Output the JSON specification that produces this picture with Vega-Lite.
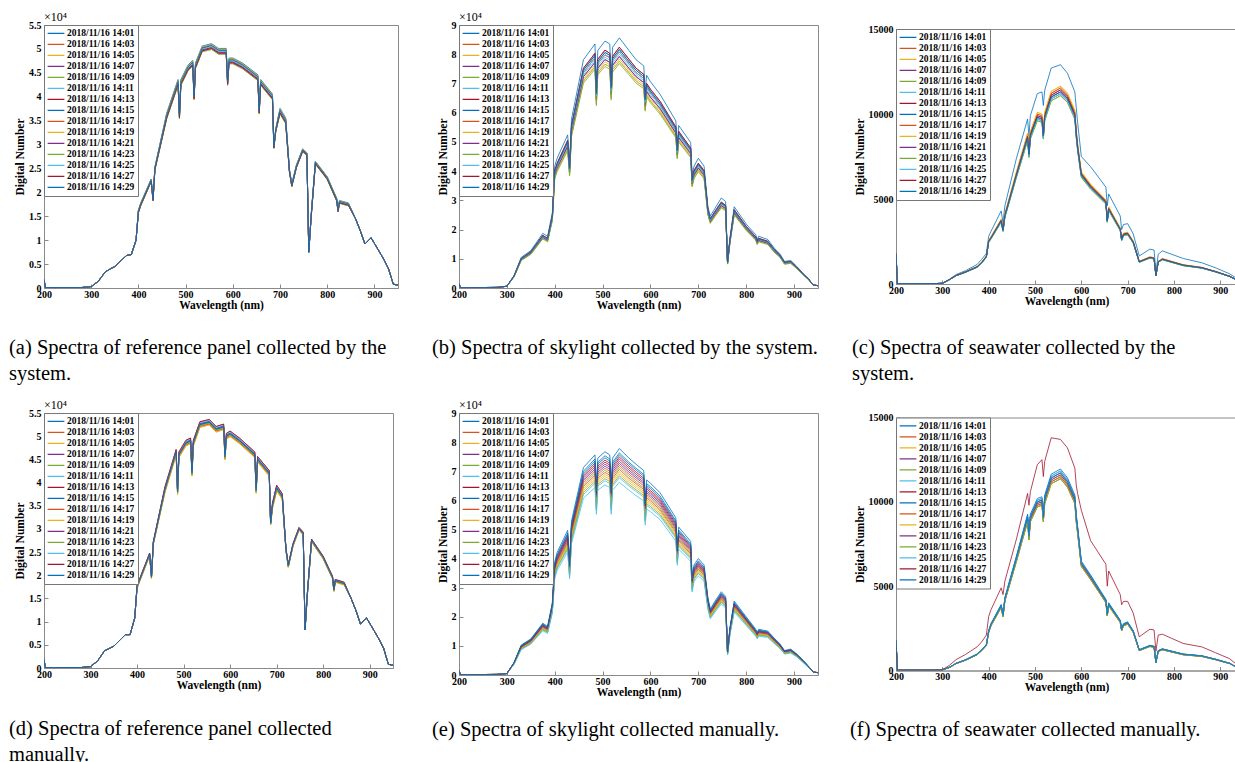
{
"$schema":"https://vega.github.io/schema/vega-lite/v6.json",
"background":"white",
"padding":{"left":8,"top":10,"right":0,"bottom":0},
"config":{
 "font":"Liberation Serif",
 "view":{"stroke":"#8a8a8a","strokeWidth":1},
 "range":{"category":["#0072BD","#D95319","#EDB120","#7E2F8E","#77AC30","#4DBEEE","#A2142F","#0072BD","#D95319","#EDB120","#7E2F8E","#77AC30","#4DBEEE","#A2142F","#0072BD"]},
 "axis":{"labelFont":"Liberation Serif","labelFontWeight":"bold","labelFontSize":10,"labelColor":"#000","titleFont":"Liberation Serif","titleFontWeight":"bold","titleFontSize":11.5,"titleColor":"#000","domainColor":"#8a8a8a","tickColor":"#8a8a8a","tickSize":-4,"labelPadding":5,"grid":false,"labelFlush":false,"labelOverlap":false,"titlePadding":0},
 "axisY":{"titleFontSize":11.5,"titlePadding":3,"labelPadding":7},
 "legend":{"orient":"top-left","offset":0,"symbolType":"stroke","symbolSize":280,"symbolStrokeWidth":1.2,"clipHeight":10.8,"rowPadding":0,"labelFont":"Liberation Serif","labelFontWeight":"bold","labelFontSize":9.5,"labelColor":"#000","labelOffset":2,"padding":3,"strokeColor":"#777","fillColor":"#fff","labelLimit":300,"symbolOffset":0},
 "title":{"orient":"bottom","anchor":"start","frame":"group","font":"Liberation Serif","fontSize":20.5,"fontWeight":"normal","color":"#000","offset":27,"lineHeight":26}
},
"datasets":{
 "nm":[
  {"p":"a","s":["2018/11/16 14:01","2018/11/16 14:03","2018/11/16 14:05","2018/11/16 14:07","2018/11/16 14:09","2018/11/16 14:11","2018/11/16 14:13","2018/11/16 14:15","2018/11/16 14:17","2018/11/16 14:19","2018/11/16 14:21","2018/11/16 14:23","2018/11/16 14:25","2018/11/16 14:27","2018/11/16 14:29"]},
  {"p":"b","s":["2018/11/16 14:01","2018/11/16 14:03","2018/11/16 14:05","2018/11/16 14:07","2018/11/16 14:09","2018/11/16 14:11","2018/11/16 14:13","2018/11/16 14:15","2018/11/16 14:17","2018/11/16 14:19","2018/11/16 14:21","2018/11/16 14:23","2018/11/16 14:25","2018/11/16 14:27","2018/11/16 14:29"]},
  {"p":"c","s":["2018/11/16 14:01","2018/11/16 14:03","2018/11/16 14:05","2018/11/16 14:07","2018/11/16 14:09","2018/11/16 14:11","2018/11/16 14:13","2018/11/16 14:15","2018/11/16 14:17","2018/11/16 14:19","2018/11/16 14:21","2018/11/16 14:23","2018/11/16 14:25","2018/11/16 14:27","2018/11/16 14:29"]},
  {"p":"d","s":["2018/11/16 14:01","2018/11/16 14:03","2018/11/16 14:05","2018/11/16 14:07","2018/11/16 14:09","2018/11/16 14:11","2018/11/16 14:13","2018/11/16 14:15","2018/11/16 14:17","2018/11/16 14:19","2018/11/16 14:21","2018/11/16 14:23","2018/11/16 14:25","2018/11/16 14:27","2018/11/16 14:29"]},
  {"p":"e","s":["2018/11/16 14:01","2018/11/16 14:03","2018/11/16 14:05","2018/11/16 14:07","2018/11/16 14:09","2018/11/16 14:11","2018/11/16 14:13","2018/11/16 14:15","2018/11/16 14:17","2018/11/16 14:19","2018/11/16 14:21","2018/11/16 14:23","2018/11/16 14:25","2018/11/16 14:27","2018/11/16 14:29"]},
  {"p":"f","s":["2018/11/16 14:01","2018/11/16 14:03","2018/11/16 14:05","2018/11/16 14:07","2018/11/16 14:09","2018/11/16 14:11","2018/11/16 14:13","2018/11/16 14:15","2018/11/16 14:17","2018/11/16 14:19","2018/11/16 14:21","2018/11/16 14:23","2018/11/16 14:25","2018/11/16 14:27","2018/11/16 14:29"]}
 ],
 "sp":[
{"p":"a","w":200,"v":[0.18,0.18,0.18,0.18,0.18,0.18,0.18,0.18,0.18,0.18,0.18,0.18,0.18,0.18,0.18]},
{"p":"a","w":203,"v":[0.01,0.01,0.01,0.01,0.01,0.01,0.01,0.01,0.01,0.01,0.01,0.01,0.01,0.01,0.01]},
{"p":"a","w":280,"v":[0.01,0.01,0.01,0.01,0.01,0.01,0.01,0.01,0.01,0.01,0.01,0.01,0.01,0.01,0.01]},
{"p":"a","w":300,"v":[0.03,0.03,0.03,0.03,0.03,0.03,0.03,0.03,0.03,0.03,0.03,0.03,0.03,0.03,0.03]},
{"p":"a","w":315,"v":[0.14,0.14,0.14,0.14,0.14,0.14,0.14,0.14,0.14,0.14,0.14,0.14,0.14,0.14,0.14]},
{"p":"a","w":330,"v":[0.34,0.34,0.34,0.34,0.34,0.34,0.34,0.34,0.34,0.34,0.34,0.34,0.34,0.34,0.34]},
{"p":"a","w":350,"v":[0.45,0.45,0.45,0.45,0.45,0.45,0.45,0.45,0.45,0.45,0.45,0.45,0.45,0.45,0.45]},
{"p":"a","w":375,"v":[0.68,0.68,0.68,0.68,0.68,0.68,0.68,0.68,0.68,0.68,0.68,0.68,0.68,0.68,0.68]},
{"p":"a","w":385,"v":[0.7,0.7,0.7,0.7,0.7,0.7,0.7,0.7,0.7,0.7,0.7,0.7,0.7,0.7,0.7]},
{"p":"a","w":395,"v":[1,1,1,1,1,1,1,1,1,1,1,1,1,1,1]},
{"p":"a","w":400,"v":[1.63,1.61,1.62,1.59,1.57,1.6,1.58,1.62,1.61,1.62,1.59,1.57,1.6,1.58,1.61]},
{"p":"a","w":405,"v":[1.78,1.76,1.77,1.74,1.72,1.75,1.73,1.77,1.76,1.77,1.74,1.72,1.75,1.73,1.76]},
{"p":"a","w":427,"v":[2.28,2.26,2.27,2.24,2.22,2.25,2.23,2.27,2.26,2.27,2.24,2.22,2.25,2.23,2.26]},
{"p":"a","w":431,"v":[1.88,1.86,1.87,1.84,1.82,1.85,1.83,1.87,1.86,1.87,1.84,1.82,1.85,1.83,1.86]},
{"p":"a","w":435,"v":[2.53,2.51,2.52,2.49,2.47,2.5,2.48,2.52,2.51,2.52,2.49,2.47,2.5,2.48,2.51]},
{"p":"a","w":460,"v":[3.66,3.62,3.64,3.58,3.54,3.6,3.56,3.64,3.62,3.64,3.58,3.54,3.6,3.56,3.62]},
{"p":"a","w":484,"v":[4.36,4.32,4.34,4.28,4.24,4.3,4.26,4.34,4.32,4.34,4.28,4.24,4.3,4.26,4.32]},
{"p":"a","w":487,"v":[3.66,3.62,3.64,3.58,3.54,3.6,3.56,3.64,3.62,3.64,3.58,3.54,3.6,3.56,3.62]},
{"p":"a","w":490,"v":[4.36,4.32,4.34,4.28,4.24,4.3,4.26,4.34,4.32,4.34,4.28,4.24,4.3,4.26,4.32]},
{"p":"a","w":505,"v":[4.66,4.62,4.64,4.58,4.54,4.6,4.56,4.64,4.62,4.64,4.58,4.54,4.6,4.56,4.62]},
{"p":"a","w":515,"v":[4.76,4.72,4.74,4.68,4.64,4.7,4.66,4.74,4.72,4.74,4.68,4.64,4.7,4.66,4.72]},
{"p":"a","w":518,"v":[4.06,4.02,4.04,3.98,3.94,4,3.96,4.04,4.02,4.04,3.98,3.94,4,3.96,4.02]},
{"p":"a","w":521,"v":[4.71,4.67,4.69,4.63,4.59,4.65,4.61,4.69,4.67,4.69,4.63,4.59,4.65,4.61,4.67]},
{"p":"a","w":535,"v":[5.06,5.02,5.04,4.98,4.94,5,4.96,5.04,5.02,5.04,4.98,4.94,5,4.96,5.02]},
{"p":"a","w":555,"v":[5.11,5.07,5.09,5.03,4.99,5.05,5.01,5.09,5.07,5.09,5.03,4.99,5.05,5.01,5.07]},
{"p":"a","w":570,"v":[5.01,4.97,4.99,4.93,4.89,4.95,4.91,4.99,4.97,4.99,4.93,4.89,4.95,4.91,4.97]},
{"p":"a","w":586,"v":[5.01,4.97,4.99,4.93,4.89,4.95,4.91,4.99,4.97,4.99,4.93,4.89,4.95,4.91,4.97]},
{"p":"a","w":589,"v":[4.36,4.32,4.34,4.28,4.24,4.3,4.26,4.34,4.32,4.34,4.28,4.24,4.3,4.26,4.32]},
{"p":"a","w":592,"v":[4.81,4.77,4.79,4.73,4.69,4.75,4.71,4.79,4.77,4.79,4.73,4.69,4.75,4.71,4.77]},
{"p":"a","w":600,"v":[4.81,4.77,4.79,4.73,4.69,4.75,4.71,4.79,4.77,4.79,4.73,4.69,4.75,4.71,4.77]},
{"p":"a","w":620,"v":[4.71,4.67,4.69,4.63,4.59,4.65,4.61,4.69,4.67,4.69,4.63,4.59,4.65,4.61,4.67]},
{"p":"a","w":653,"v":[4.46,4.42,4.44,4.38,4.34,4.4,4.36,4.44,4.42,4.44,4.38,4.34,4.4,4.36,4.42]},
{"p":"a","w":656,"v":[3.76,3.72,3.74,3.68,3.64,3.7,3.66,3.74,3.72,3.74,3.68,3.64,3.7,3.66,3.72]},
{"p":"a","w":659,"v":[4.36,4.32,4.34,4.28,4.24,4.3,4.26,4.34,4.32,4.34,4.28,4.24,4.3,4.26,4.32]},
{"p":"a","w":684,"v":[4.06,4.02,4.04,3.98,3.94,4,3.96,4.04,4.02,4.04,3.98,3.94,4,3.96,4.02]},
{"p":"a","w":687,"v":[2.98,2.96,2.97,2.94,2.92,2.95,2.93,2.97,2.96,2.97,2.94,2.92,2.95,2.93,2.96]},
{"p":"a","w":691,"v":[3.33,3.31,3.32,3.29,3.27,3.3,3.28,3.32,3.31,3.32,3.29,3.27,3.3,3.28,3.31]},
{"p":"a","w":700,"v":[3.76,3.72,3.74,3.68,3.64,3.7,3.66,3.74,3.72,3.74,3.68,3.64,3.7,3.66,3.72]},
{"p":"a","w":712,"v":[3.56,3.52,3.54,3.48,3.44,3.5,3.46,3.54,3.52,3.54,3.48,3.44,3.5,3.46,3.52]},
{"p":"a","w":720,"v":[2.48,2.46,2.47,2.44,2.42,2.45,2.43,2.47,2.46,2.47,2.44,2.42,2.45,2.43,2.46]},
{"p":"a","w":725,"v":[2.18,2.16,2.17,2.14,2.12,2.15,2.13,2.17,2.16,2.17,2.14,2.12,2.15,2.13,2.16]},
{"p":"a","w":735,"v":[2.58,2.56,2.57,2.54,2.52,2.55,2.53,2.57,2.56,2.57,2.54,2.52,2.55,2.53,2.56]},
{"p":"a","w":748,"v":[2.91,2.89,2.9,2.87,2.85,2.88,2.86,2.9,2.89,2.9,2.87,2.85,2.88,2.86,2.89]},
{"p":"a","w":757,"v":[2.83,2.81,2.82,2.79,2.77,2.8,2.78,2.82,2.81,2.82,2.79,2.77,2.8,2.78,2.81]},
{"p":"a","w":761,"v":[0.75,0.75,0.75,0.75,0.75,0.75,0.75,0.75,0.75,0.75,0.75,0.75,0.75,0.75,0.75]},
{"p":"a","w":766,"v":[1.53,1.51,1.52,1.49,1.47,1.5,1.48,1.52,1.51,1.52,1.49,1.47,1.5,1.48,1.51]},
{"p":"a","w":775,"v":[2.65,2.63,2.64,2.61,2.59,2.62,2.6,2.64,2.63,2.64,2.61,2.59,2.62,2.6,2.63]},
{"p":"a","w":800,"v":[2.33,2.31,2.32,2.29,2.27,2.3,2.28,2.32,2.31,2.32,2.29,2.27,2.3,2.28,2.31]},
{"p":"a","w":820,"v":[1.88,1.86,1.87,1.84,1.82,1.85,1.83,1.87,1.86,1.87,1.84,1.82,1.85,1.83,1.86]},
{"p":"a","w":823,"v":[1.65,1.63,1.64,1.61,1.59,1.62,1.6,1.64,1.63,1.64,1.61,1.59,1.62,1.6,1.63]},
{"p":"a","w":826,"v":[1.83,1.81,1.82,1.79,1.77,1.8,1.78,1.82,1.81,1.82,1.79,1.77,1.8,1.78,1.81]},
{"p":"a","w":845,"v":[1.78,1.76,1.77,1.74,1.72,1.75,1.73,1.77,1.76,1.77,1.74,1.72,1.75,1.73,1.76]},
{"p":"a","w":860,"v":[1.45,1.45,1.45,1.45,1.45,1.45,1.45,1.45,1.45,1.45,1.45,1.45,1.45,1.45,1.45]},
{"p":"a","w":870,"v":[1.2,1.2,1.2,1.2,1.2,1.2,1.2,1.2,1.2,1.2,1.2,1.2,1.2,1.2,1.2]},
{"p":"a","w":880,"v":[0.92,0.92,0.92,0.92,0.92,0.92,0.92,0.92,0.92,0.92,0.92,0.92,0.92,0.92,0.92]},
{"p":"a","w":893,"v":[1.05,1.05,1.05,1.05,1.05,1.05,1.05,1.05,1.05,1.05,1.05,1.05,1.05,1.05,1.05]},
{"p":"a","w":905,"v":[0.85,0.85,0.85,0.85,0.85,0.85,0.85,0.85,0.85,0.85,0.85,0.85,0.85,0.85,0.85]},
{"p":"a","w":920,"v":[0.6,0.6,0.6,0.6,0.6,0.6,0.6,0.6,0.6,0.6,0.6,0.6,0.6,0.6,0.6]},
{"p":"a","w":930,"v":[0.4,0.4,0.4,0.4,0.4,0.4,0.4,0.4,0.4,0.4,0.4,0.4,0.4,0.4,0.4]},
{"p":"a","w":940,"v":[0.08,0.08,0.08,0.08,0.08,0.08,0.08,0.08,0.08,0.08,0.08,0.08,0.08,0.08,0.08]},
{"p":"a","w":950,"v":[0.06,0.06,0.06,0.06,0.06,0.06,0.06,0.06,0.06,0.06,0.06,0.06,0.06,0.06,0.06]},

{"p":"b","w":200,"v":[0.15,0.15,0.15,0.15,0.15,0.15,0.15,0.15,0.15,0.15,0.15,0.15,0.15,0.15,0.15]},
{"p":"b","w":203,"v":[0.01,0.01,0.01,0.01,0.01,0.01,0.01,0.01,0.01,0.01,0.01,0.01,0.01,0.01,0.01]},
{"p":"b","w":280,"v":[0.02,0.02,0.02,0.02,0.02,0.02,0.02,0.02,0.02,0.02,0.02,0.02,0.02,0.02,0.02]},
{"p":"b","w":300,"v":[0.06,0.06,0.06,0.06,0.06,0.06,0.06,0.06,0.06,0.06,0.06,0.06,0.06,0.06,0.06]},
{"p":"b","w":315,"v":[0.43,0.4,0.39,0.4,0.39,0.4,0.41,0.41,0.4,0.39,0.4,0.38,0.4,0.41,0.41]},
{"p":"b","w":330,"v":[1.05,0.99,0.96,0.97,0.95,0.98,1.01,1,0.99,0.95,0.97,0.94,0.99,1.01,1]},
{"p":"b","w":350,"v":[1.28,1.21,1.18,1.19,1.16,1.2,1.24,1.22,1.21,1.16,1.19,1.15,1.21,1.24,1.22]},
{"p":"b","w":375,"v":[1.87,1.77,1.72,1.73,1.7,1.75,1.8,1.79,1.77,1.7,1.73,1.68,1.77,1.8,1.79]},
{"p":"b","w":385,"v":[1.77,1.67,1.62,1.63,1.6,1.65,1.7,1.68,1.67,1.6,1.63,1.58,1.67,1.7,1.68]},
{"p":"b","w":395,"v":[2.57,2.42,2.35,2.38,2.33,2.4,2.47,2.45,2.42,2.33,2.38,2.3,2.42,2.47,2.45]},
{"p":"b","w":400,"v":[4.17,3.94,3.82,3.86,3.78,3.9,4.02,3.98,3.94,3.78,3.86,3.74,3.94,4.02,3.98]},
{"p":"b","w":405,"v":[4.44,4.19,4.07,4.11,4.03,4.15,4.27,4.23,4.19,4.03,4.11,3.98,4.19,4.27,4.23]},
{"p":"b","w":427,"v":[5.24,4.95,4.8,4.85,4.75,4.9,5.05,5,4.95,4.75,4.85,4.7,4.95,5.05,5]},
{"p":"b","w":431,"v":[4.28,4.04,3.92,3.96,3.88,4,4.12,4.08,4.04,3.88,3.96,3.84,4.04,4.12,4.08]},
{"p":"b","w":435,"v":[5.78,5.45,5.29,5.35,5.24,5.4,5.56,5.51,5.45,5.24,5.35,5.18,5.45,5.56,5.51]},
{"p":"b","w":460,"v":[7.81,7.37,7.15,7.23,7.08,7.3,7.52,7.45,7.37,7.08,7.23,7.01,7.37,7.52,7.45]},
{"p":"b","w":484,"v":[8.35,7.88,7.64,7.72,7.57,7.8,8.03,7.96,7.88,7.57,7.72,7.49,7.88,8.03,7.96]},
{"p":"b","w":487,"v":[6.96,6.57,6.37,6.44,6.3,6.5,6.7,6.63,6.57,6.3,6.44,6.24,6.57,6.7,6.63]},
{"p":"b","w":490,"v":[8.13,7.68,7.45,7.52,7.37,7.6,7.83,7.75,7.68,7.37,7.52,7.3,7.68,7.83,7.75]},
{"p":"b","w":505,"v":[8.45,7.98,7.74,7.82,7.66,7.9,8.14,8.06,7.98,7.66,7.82,7.58,7.98,8.14,8.06]},
{"p":"b","w":515,"v":[8.35,7.88,7.64,7.72,7.57,7.8,8.03,7.96,7.88,7.57,7.72,7.49,7.88,8.03,7.96]},
{"p":"b","w":518,"v":[7.17,6.77,6.57,6.63,6.5,6.7,6.9,6.83,6.77,6.5,6.63,6.43,6.77,6.9,6.83]},
{"p":"b","w":521,"v":[8.24,7.78,7.55,7.62,7.47,7.7,7.93,7.85,7.78,7.47,7.62,7.39,7.78,7.93,7.85]},
{"p":"b","w":535,"v":[8.56,8.08,7.84,7.92,7.76,8,8.24,8.16,8.08,7.76,7.92,7.68,8.08,8.24,8.16]},
{"p":"b","w":555,"v":[8.13,7.68,7.45,7.52,7.37,7.6,7.83,7.75,7.68,7.37,7.52,7.3,7.68,7.83,7.75]},
{"p":"b","w":570,"v":[7.81,7.37,7.15,7.23,7.08,7.3,7.52,7.45,7.37,7.08,7.23,7.01,7.37,7.52,7.45]},
{"p":"b","w":586,"v":[7.6,7.17,6.96,7.03,6.89,7.1,7.31,7.24,7.17,6.89,7.03,6.82,7.17,7.31,7.24]},
{"p":"b","w":589,"v":[6.74,6.36,6.17,6.24,6.11,6.3,6.49,6.43,6.36,6.11,6.24,6.05,6.36,6.49,6.43]},
{"p":"b","w":592,"v":[7.28,6.87,6.66,6.73,6.6,6.8,7,6.94,6.87,6.6,6.73,6.53,6.87,7,6.94]},
{"p":"b","w":600,"v":[7.06,6.67,6.47,6.53,6.4,6.6,6.8,6.73,6.67,6.4,6.53,6.34,6.67,6.8,6.73]},
{"p":"b","w":620,"v":[6.63,6.26,6.08,6.14,6.01,6.2,6.39,6.32,6.26,6.01,6.14,5.95,6.26,6.39,6.32]},
{"p":"b","w":653,"v":[5.72,5.4,5.24,5.3,5.19,5.35,5.51,5.46,5.4,5.19,5.3,5.14,5.4,5.51,5.46]},
{"p":"b","w":656,"v":[4.92,4.65,4.51,4.55,4.46,4.6,4.74,4.69,4.65,4.46,4.55,4.42,4.65,4.74,4.69]},
{"p":"b","w":659,"v":[5.56,5.25,5.1,5.15,5.04,5.2,5.36,5.3,5.25,5.04,5.15,4.99,5.25,5.36,5.3]},
{"p":"b","w":684,"v":[4.98,4.7,4.56,4.6,4.51,4.65,4.79,4.74,4.7,4.51,4.6,4.46,4.7,4.79,4.74]},
{"p":"b","w":687,"v":[3.85,3.64,3.53,3.56,3.49,3.6,3.71,3.67,3.64,3.49,3.56,3.46,3.64,3.71,3.67]},
{"p":"b","w":691,"v":[4.17,3.94,3.82,3.86,3.78,3.9,4.02,3.98,3.94,3.78,3.86,3.74,3.94,4.02,3.98]},
{"p":"b","w":700,"v":[4.44,4.19,4.07,4.11,4.03,4.15,4.27,4.23,4.19,4.03,4.11,3.98,4.19,4.27,4.23]},
{"p":"b","w":712,"v":[4.17,3.94,3.82,3.86,3.78,3.9,4.02,3.98,3.94,3.78,3.86,3.74,3.94,4.02,3.98]},
{"p":"b","w":720,"v":[2.78,2.63,2.55,2.57,2.52,2.6,2.68,2.65,2.63,2.52,2.57,2.5,2.63,2.68,2.65]},
{"p":"b","w":725,"v":[2.46,2.32,2.25,2.28,2.23,2.3,2.37,2.35,2.32,2.23,2.28,2.21,2.32,2.37,2.35]},
{"p":"b","w":735,"v":[2.73,2.58,2.5,2.52,2.47,2.55,2.63,2.6,2.58,2.47,2.52,2.45,2.58,2.63,2.6]},
{"p":"b","w":748,"v":[3.08,2.88,2.79,2.82,2.76,2.85,2.94,2.91,2.88,2.76,2.82,2.74,2.88,2.94,2.91]},
{"p":"b","w":757,"v":[2.96,2.78,2.7,2.72,2.67,2.75,2.83,2.81,2.78,2.67,2.72,2.64,2.78,2.83,2.81]},
{"p":"b","w":761,"v":[0.91,0.86,0.83,0.84,0.82,0.85,0.88,0.87,0.86,0.82,0.84,0.82,0.86,0.88,0.87]},
{"p":"b","w":766,"v":[1.71,1.62,1.57,1.58,1.55,1.6,1.65,1.63,1.62,1.55,1.58,1.54,1.62,1.65,1.63]},
{"p":"b","w":775,"v":[2.78,2.63,2.55,2.57,2.52,2.6,2.68,2.65,2.63,2.52,2.57,2.5,2.63,2.68,2.65]},
{"p":"b","w":800,"v":[2.19,2.07,2.01,2.03,1.99,2.05,2.11,2.09,2.07,1.99,2.03,1.97,2.07,2.11,2.09]},
{"p":"b","w":820,"v":[1.82,1.72,1.67,1.68,1.65,1.7,1.75,1.73,1.72,1.65,1.68,1.63,1.72,1.75,1.73]},
{"p":"b","w":823,"v":[1.66,1.57,1.52,1.53,1.5,1.55,1.6,1.58,1.57,1.5,1.53,1.49,1.57,1.6,1.58]},
{"p":"b","w":826,"v":[1.77,1.67,1.62,1.63,1.6,1.65,1.7,1.68,1.67,1.6,1.63,1.58,1.67,1.7,1.68]},
{"p":"b","w":845,"v":[1.66,1.57,1.52,1.53,1.5,1.55,1.6,1.58,1.57,1.5,1.53,1.49,1.57,1.6,1.58]},
{"p":"b","w":860,"v":[1.34,1.26,1.23,1.24,1.21,1.25,1.29,1.28,1.26,1.21,1.24,1.2,1.26,1.29,1.28]},
{"p":"b","w":870,"v":[1.18,1.11,1.08,1.09,1.07,1.1,1.13,1.12,1.11,1.07,1.09,1.06,1.11,1.13,1.12]},
{"p":"b","w":880,"v":[0.91,0.86,0.83,0.84,0.82,0.85,0.88,0.87,0.86,0.82,0.84,0.82,0.86,0.88,0.87]},
{"p":"b","w":893,"v":[0.94,0.89,0.86,0.87,0.85,0.88,0.91,0.9,0.89,0.85,0.87,0.84,0.89,0.91,0.9]},
{"p":"b","w":905,"v":[0.75,0.71,0.69,0.69,0.68,0.7,0.72,0.71,0.71,0.68,0.69,0.67,0.71,0.72,0.71]},
{"p":"b","w":920,"v":[0.48,0.45,0.44,0.45,0.44,0.45,0.46,0.46,0.45,0.44,0.45,0.43,0.45,0.46,0.46]},
{"p":"b","w":930,"v":[0.32,0.3,0.29,0.3,0.29,0.3,0.31,0.31,0.3,0.29,0.3,0.29,0.3,0.31,0.31]},
{"p":"b","w":940,"v":[0.1,0.1,0.1,0.1,0.1,0.1,0.1,0.1,0.1,0.1,0.1,0.1,0.1,0.1,0.1]},
{"p":"b","w":950,"v":[0.08,0.08,0.08,0.08,0.08,0.08,0.08,0.08,0.08,0.08,0.08,0.08,0.08,0.08,0.08]},

{"p":"c","w":200,"v":[1800,1800,1800,1800,1800,1800,1800,1800,1800,1800,1800,1800,1800,1800,1800]},
{"p":"c","w":203,"v":[20,20,20,20,20,20,20,20,20,20,20,20,20,20,20]},
{"p":"c","w":280,"v":[20,20,20,20,20,20,20,20,20,20,20,20,20,20,20]},
{"p":"c","w":300,"v":[40,40,40,40,40,40,40,40,40,40,40,40,40,40,40]},
{"p":"c","w":315,"v":[280,255,258,248,245,248,253,250,255,258,250,245,248,253,250]},
{"p":"c","w":330,"v":[560,510,515,495,490,495,505,500,510,515,500,490,495,505,500]},
{"p":"c","w":350,"v":[780,714,721,693,686,693,707,700,714,721,700,686,693,707,700]},
{"p":"c","w":375,"v":[1150,1020,1030,990,980,990,1010,1000,1020,1030,1000,980,990,1010,1000]},
{"p":"c","w":385,"v":[1450,1275,1288,1238,1225,1238,1263,1250,1275,1288,1250,1225,1238,1263,1250]},
{"p":"c","w":395,"v":[1800,1632,1648,1584,1568,1584,1616,1600,1632,1648,1600,1568,1584,1616,1600]},
{"p":"c","w":400,"v":[2800,2550,2575,2475,2450,2475,2525,2500,2550,2575,2500,2450,2475,2525,2500]},
{"p":"c","w":405,"v":[3100,2754,2781,2673,2646,2673,2727,2700,2754,2781,2700,2646,2673,2727,2700]},
{"p":"c","w":427,"v":[4300,3774,3811,3663,3626,3663,3737,3700,3774,3811,3700,3626,3663,3737,3700]},
{"p":"c","w":431,"v":[3600,3213,3245,3119,3087,3119,3182,3150,3213,3245,3150,3087,3119,3182,3150]},
{"p":"c","w":435,"v":[4600,4080,4120,3960,3920,3960,4040,4000,4080,4120,4000,3920,3960,4040,4000]},
{"p":"c","w":460,"v":[7400,6528,6592,6336,6272,6336,6464,6400,6528,6592,6400,6272,6336,6464,6400]},
{"p":"c","w":484,"v":[9700,8772,8858,8514,8428,8514,8686,8600,8772,8858,8600,8428,8514,8686,8600]},
{"p":"c","w":487,"v":[8700,7752,7828,7524,7448,7524,7676,7600,7752,7828,7600,7448,7524,7676,7600]},
{"p":"c","w":490,"v":[9900,8874,8961,8613,8526,8613,8787,8700,8874,8961,8700,8526,8613,8787,8700]},
{"p":"c","w":505,"v":[11200,9996,10094,9702,9604,9702,9898,9800,9996,10094,9800,9604,9702,9898,9800]},
{"p":"c","w":515,"v":[11300,9894,9991,9603,9506,9603,9797,9700,9894,9991,9700,9506,9603,9797,9700]},
{"p":"c","w":518,"v":[10500,8874,8961,8613,8526,8613,8787,8700,8874,8961,8700,8526,8613,8787,8700]},
{"p":"c","w":521,"v":[11400,9996,10094,9702,9604,9702,9898,9800,9996,10094,9800,9604,9702,9898,9800]},
{"p":"c","w":535,"v":[12700,11220,11330,10890,10780,10890,11110,11000,11220,11330,11000,10780,10890,11110,11000]},
{"p":"c","w":555,"v":[12900,11526,11639,11187,11074,11187,11413,11300,11526,11639,11300,11074,11187,11413,11300]},
{"p":"c","w":570,"v":[12400,11118,11227,10791,10682,10791,11009,10900,11118,11227,10900,10682,10791,11009,10900]},
{"p":"c","w":586,"v":[11300,10098,10197,9801,9702,9801,9999,9900,10098,10197,9900,9702,9801,9999,9900]},
{"p":"c","w":589,"v":[10400,8976,9064,8712,8624,8712,8888,8800,8976,9064,8800,8624,8712,8888,8800]},
{"p":"c","w":592,"v":[9500,8160,8240,7920,7840,7920,8080,8000,8160,8240,8000,7840,7920,8080,8000]},
{"p":"c","w":600,"v":[7500,6528,6592,6336,6272,6336,6464,6400,6528,6592,6400,6272,6336,6464,6400]},
{"p":"c","w":620,"v":[6900,5814,5871,5643,5586,5643,5757,5700,5814,5871,5700,5586,5643,5757,5700]},
{"p":"c","w":653,"v":[5700,4896,4944,4752,4704,4752,4848,4800,4896,4944,4800,4704,4752,4848,4800]},
{"p":"c","w":656,"v":[4600,3774,3811,3663,3626,3663,3737,3700,3774,3811,3700,3626,3663,3737,3700]},
{"p":"c","w":659,"v":[5300,4488,4532,4356,4312,4356,4444,4400,4488,4532,4400,4312,4356,4444,4400]},
{"p":"c","w":684,"v":[4000,3264,3296,3168,3136,3168,3232,3200,3264,3296,3200,3136,3168,3232,3200]},
{"p":"c","w":687,"v":[3200,2652,2678,2574,2548,2574,2626,2600,2652,2678,2600,2548,2574,2626,2600]},
{"p":"c","w":691,"v":[3500,2958,2987,2871,2842,2871,2929,2900,2958,2987,2900,2842,2871,2929,2900]},
{"p":"c","w":700,"v":[3550,3009,3039,2921,2891,2921,2980,2950,3009,3039,2950,2891,2921,2980,2950]},
{"p":"c","w":712,"v":[2950,2499,2524,2426,2401,2426,2475,2450,2499,2524,2450,2401,2426,2475,2450]},
{"p":"c","w":725,"v":[1650,1326,1339,1287,1274,1287,1313,1300,1326,1339,1300,1274,1287,1313,1300]},
{"p":"c","w":748,"v":[2050,1581,1597,1535,1519,1535,1566,1550,1581,1597,1550,1519,1535,1566,1550]},
{"p":"c","w":757,"v":[2000,1530,1545,1485,1470,1485,1515,1500,1530,1545,1500,1470,1485,1515,1500]},
{"p":"c","w":761,"v":[700,510,515,495,490,495,505,500,510,515,500,490,495,505,500]},
{"p":"c","w":766,"v":[1750,1326,1339,1287,1274,1287,1313,1300,1326,1339,1300,1274,1287,1313,1300]},
{"p":"c","w":775,"v":[1950,1479,1494,1436,1421,1436,1465,1450,1479,1494,1450,1421,1436,1465,1450]},
{"p":"c","w":820,"v":[1500,1122,1133,1089,1078,1089,1111,1100,1122,1133,1100,1078,1089,1111,1100]},
{"p":"c","w":860,"v":[1250,969,979,941,931,941,960,950,969,979,950,931,941,960,950]},
{"p":"c","w":890,"v":[950,734,742,713,706,713,727,720,734,742,720,706,713,727,720]},
{"p":"c","w":920,"v":[600,459,464,446,441,446,455,450,459,464,450,441,446,455,450]},
{"p":"c","w":940,"v":[250,173,175,168,167,168,172,170,173,175,170,167,168,172,170]},
{"p":"c","w":950,"v":[180,122,124,119,118,119,121,120,122,124,120,118,119,121,120]},

{"p":"d","w":200,"v":[0.18,0.18,0.18,0.18,0.18,0.18,0.18,0.18,0.18,0.18,0.18,0.18,0.18,0.18,0.18]},
{"p":"d","w":203,"v":[0.01,0.01,0.01,0.01,0.01,0.01,0.01,0.01,0.01,0.01,0.01,0.01,0.01,0.01,0.01]},
{"p":"d","w":280,"v":[0.01,0.01,0.01,0.01,0.01,0.01,0.01,0.01,0.01,0.01,0.01,0.01,0.01,0.01,0.01]},
{"p":"d","w":300,"v":[0.03,0.03,0.03,0.03,0.03,0.03,0.03,0.03,0.03,0.03,0.03,0.03,0.03,0.03,0.03]},
{"p":"d","w":315,"v":[0.15,0.15,0.15,0.15,0.15,0.15,0.15,0.15,0.15,0.15,0.15,0.15,0.15,0.15,0.15]},
{"p":"d","w":330,"v":[0.37,0.37,0.37,0.37,0.37,0.37,0.37,0.37,0.37,0.37,0.37,0.37,0.37,0.37,0.37]},
{"p":"d","w":350,"v":[0.47,0.47,0.47,0.47,0.47,0.47,0.47,0.47,0.47,0.47,0.47,0.47,0.47,0.47,0.47]},
{"p":"d","w":375,"v":[0.72,0.72,0.72,0.72,0.72,0.72,0.72,0.72,0.72,0.72,0.72,0.72,0.72,0.72,0.72]},
{"p":"d","w":385,"v":[0.72,0.72,0.72,0.72,0.72,0.72,0.72,0.72,0.72,0.72,0.72,0.72,0.72,0.72,0.72]},
{"p":"d","w":395,"v":[1.08,1.08,1.08,1.08,1.08,1.08,1.08,1.08,1.08,1.08,1.08,1.08,1.08,1.08,1.08]},
{"p":"d","w":400,"v":[1.76,1.73,1.72,1.75,1.74,1.76,1.78,1.75,1.73,1.72,1.76,1.74,1.77,1.78,1.75]},
{"p":"d","w":405,"v":[1.89,1.86,1.85,1.88,1.87,1.89,1.91,1.88,1.86,1.85,1.89,1.87,1.9,1.91,1.88]},
{"p":"d","w":427,"v":[2.46,2.43,2.42,2.45,2.44,2.46,2.48,2.45,2.43,2.42,2.46,2.44,2.47,2.48,2.45]},
{"p":"d","w":431,"v":[1.97,1.94,1.93,1.96,1.95,1.97,1.99,1.96,1.94,1.93,1.97,1.95,1.98,1.99,1.96]},
{"p":"d","w":435,"v":[2.71,2.68,2.67,2.7,2.69,2.71,2.73,2.7,2.68,2.67,2.71,2.69,2.72,2.73,2.7]},
{"p":"d","w":460,"v":[3.87,3.81,3.79,3.85,3.83,3.87,3.91,3.85,3.81,3.79,3.87,3.83,3.89,3.91,3.85]},
{"p":"d","w":484,"v":[4.67,4.61,4.59,4.65,4.63,4.67,4.71,4.65,4.61,4.59,4.67,4.63,4.69,4.71,4.65]},
{"p":"d","w":487,"v":[3.82,3.76,3.74,3.8,3.78,3.82,3.86,3.8,3.76,3.74,3.82,3.78,3.84,3.86,3.8]},
{"p":"d","w":490,"v":[4.62,4.56,4.54,4.6,4.58,4.62,4.66,4.6,4.56,4.54,4.62,4.58,4.64,4.66,4.6]},
{"p":"d","w":505,"v":[4.87,4.81,4.79,4.85,4.83,4.87,4.91,4.85,4.81,4.79,4.87,4.83,4.89,4.91,4.85]},
{"p":"d","w":515,"v":[4.92,4.86,4.84,4.9,4.88,4.92,4.96,4.9,4.86,4.84,4.92,4.88,4.94,4.96,4.9]},
{"p":"d","w":518,"v":[4.22,4.16,4.14,4.2,4.18,4.22,4.26,4.2,4.16,4.14,4.22,4.18,4.24,4.26,4.2]},
{"p":"d","w":521,"v":[4.87,4.81,4.79,4.85,4.83,4.87,4.91,4.85,4.81,4.79,4.87,4.83,4.89,4.91,4.85]},
{"p":"d","w":535,"v":[5.27,5.21,5.19,5.25,5.23,5.27,5.31,5.25,5.21,5.19,5.27,5.23,5.29,5.31,5.25]},
{"p":"d","w":555,"v":[5.32,5.26,5.24,5.3,5.28,5.32,5.36,5.3,5.26,5.24,5.32,5.28,5.34,5.36,5.3]},
{"p":"d","w":570,"v":[5.17,5.11,5.09,5.15,5.13,5.17,5.21,5.15,5.11,5.09,5.17,5.13,5.19,5.21,5.15]},
{"p":"d","w":586,"v":[5.22,5.16,5.14,5.2,5.18,5.22,5.26,5.2,5.16,5.14,5.22,5.18,5.24,5.26,5.2]},
{"p":"d","w":589,"v":[4.57,4.51,4.49,4.55,4.53,4.57,4.61,4.55,4.51,4.49,4.57,4.53,4.59,4.61,4.55]},
{"p":"d","w":592,"v":[5.02,4.96,4.94,5,4.98,5.02,5.06,5,4.96,4.94,5.02,4.98,5.04,5.06,5]},
{"p":"d","w":600,"v":[5.07,5.01,4.99,5.05,5.03,5.07,5.11,5.05,5.01,4.99,5.07,5.03,5.09,5.11,5.05]},
{"p":"d","w":620,"v":[4.92,4.86,4.84,4.9,4.88,4.92,4.96,4.9,4.86,4.84,4.92,4.88,4.94,4.96,4.9]},
{"p":"d","w":653,"v":[4.62,4.56,4.54,4.6,4.58,4.62,4.66,4.6,4.56,4.54,4.62,4.58,4.64,4.66,4.6]},
{"p":"d","w":656,"v":[3.85,3.79,3.77,3.83,3.81,3.85,3.89,3.83,3.79,3.77,3.85,3.81,3.87,3.89,3.83]},
{"p":"d","w":659,"v":[4.52,4.46,4.44,4.5,4.48,4.52,4.56,4.5,4.46,4.44,4.52,4.48,4.54,4.56,4.5]},
{"p":"d","w":684,"v":[4.22,4.16,4.14,4.2,4.18,4.22,4.26,4.2,4.16,4.14,4.22,4.18,4.24,4.26,4.2]},
{"p":"d","w":687,"v":[3.13,3.1,3.09,3.12,3.11,3.13,3.15,3.12,3.1,3.09,3.13,3.11,3.14,3.15,3.12]},
{"p":"d","w":691,"v":[3.52,3.46,3.44,3.5,3.48,3.52,3.56,3.5,3.46,3.44,3.52,3.48,3.54,3.56,3.5]},
{"p":"d","w":700,"v":[3.9,3.84,3.82,3.88,3.86,3.9,3.94,3.88,3.84,3.82,3.9,3.86,3.92,3.94,3.88]},
{"p":"d","w":712,"v":[3.72,3.66,3.64,3.7,3.68,3.72,3.76,3.7,3.66,3.64,3.72,3.68,3.74,3.76,3.7]},
{"p":"d","w":720,"v":[2.56,2.53,2.52,2.55,2.54,2.56,2.58,2.55,2.53,2.52,2.56,2.54,2.57,2.58,2.55]},
{"p":"d","w":725,"v":[2.21,2.18,2.17,2.2,2.19,2.21,2.23,2.2,2.18,2.17,2.21,2.19,2.22,2.23,2.2]},
{"p":"d","w":735,"v":[2.66,2.63,2.62,2.65,2.64,2.66,2.68,2.65,2.63,2.62,2.66,2.64,2.67,2.68,2.65]},
{"p":"d","w":748,"v":[3.01,2.98,2.97,3,2.99,3.01,3.03,3,2.98,2.97,3.01,2.99,3.02,3.03,3]},
{"p":"d","w":757,"v":[2.91,2.88,2.87,2.9,2.89,2.91,2.93,2.9,2.88,2.87,2.91,2.89,2.92,2.93,2.9]},
{"p":"d","w":761,"v":[0.82,0.82,0.82,0.82,0.82,0.82,0.82,0.82,0.82,0.82,0.82,0.82,0.82,0.82,0.82]},
{"p":"d","w":766,"v":[1.61,1.58,1.57,1.6,1.59,1.61,1.63,1.6,1.58,1.57,1.61,1.59,1.62,1.63,1.6]},
{"p":"d","w":775,"v":[2.76,2.73,2.72,2.75,2.74,2.76,2.78,2.75,2.73,2.72,2.76,2.74,2.77,2.78,2.75]},
{"p":"d","w":800,"v":[2.39,2.36,2.35,2.38,2.37,2.39,2.41,2.38,2.36,2.35,2.39,2.37,2.4,2.41,2.38]},
{"p":"d","w":820,"v":[1.96,1.93,1.92,1.95,1.94,1.96,1.98,1.95,1.93,1.92,1.96,1.94,1.97,1.98,1.95]},
{"p":"d","w":823,"v":[1.69,1.66,1.65,1.68,1.67,1.69,1.71,1.68,1.66,1.65,1.69,1.67,1.7,1.71,1.68]},
{"p":"d","w":826,"v":[1.89,1.86,1.85,1.88,1.87,1.89,1.91,1.88,1.86,1.85,1.89,1.87,1.9,1.91,1.88]},
{"p":"d","w":845,"v":[1.83,1.8,1.79,1.82,1.81,1.83,1.85,1.82,1.8,1.79,1.83,1.81,1.84,1.85,1.82]},
{"p":"d","w":860,"v":[1.5,1.5,1.5,1.5,1.5,1.5,1.5,1.5,1.5,1.5,1.5,1.5,1.5,1.5,1.5]},
{"p":"d","w":870,"v":[1.25,1.25,1.25,1.25,1.25,1.25,1.25,1.25,1.25,1.25,1.25,1.25,1.25,1.25,1.25]},
{"p":"d","w":880,"v":[0.95,0.95,0.95,0.95,0.95,0.95,0.95,0.95,0.95,0.95,0.95,0.95,0.95,0.95,0.95]},
{"p":"d","w":893,"v":[1.08,1.08,1.08,1.08,1.08,1.08,1.08,1.08,1.08,1.08,1.08,1.08,1.08,1.08,1.08]},
{"p":"d","w":905,"v":[0.88,0.88,0.88,0.88,0.88,0.88,0.88,0.88,0.88,0.88,0.88,0.88,0.88,0.88,0.88]},
{"p":"d","w":920,"v":[0.62,0.62,0.62,0.62,0.62,0.62,0.62,0.62,0.62,0.62,0.62,0.62,0.62,0.62,0.62]},
{"p":"d","w":930,"v":[0.42,0.42,0.42,0.42,0.42,0.42,0.42,0.42,0.42,0.42,0.42,0.42,0.42,0.42,0.42]},
{"p":"d","w":940,"v":[0.08,0.08,0.08,0.08,0.08,0.08,0.08,0.08,0.08,0.08,0.08,0.08,0.08,0.08,0.08]},
{"p":"d","w":950,"v":[0.06,0.06,0.06,0.06,0.06,0.06,0.06,0.06,0.06,0.06,0.06,0.06,0.06,0.06,0.06]},

{"p":"e","w":200,"v":[0.15,0.15,0.15,0.15,0.15,0.15,0.15,0.15,0.15,0.15,0.15,0.15,0.15,0.15,0.15]},
{"p":"e","w":203,"v":[0.01,0.01,0.01,0.01,0.01,0.01,0.01,0.01,0.01,0.01,0.01,0.01,0.01,0.01,0.01]},
{"p":"e","w":280,"v":[0.02,0.02,0.02,0.02,0.02,0.02,0.02,0.02,0.02,0.02,0.02,0.02,0.02,0.02,0.02]},
{"p":"e","w":300,"v":[0.05,0.05,0.05,0.05,0.05,0.05,0.05,0.05,0.05,0.05,0.05,0.05,0.05,0.05,0.05]},
{"p":"e","w":315,"v":[0.42,0.39,0.38,0.4,0.4,0.38,0.41,0.43,0.4,0.39,0.41,0.38,0.37,0.42,0.42]},
{"p":"e","w":330,"v":[1.01,0.93,0.91,0.96,0.94,0.89,0.98,1.03,0.95,0.92,0.97,0.9,0.87,0.99,1]},
{"p":"e","w":350,"v":[1.22,1.13,1.1,1.16,1.14,1.08,1.19,1.24,1.15,1.12,1.17,1.09,1.06,1.2,1.21]},
{"p":"e","w":375,"v":[1.75,1.62,1.58,1.67,1.63,1.55,1.7,1.78,1.65,1.6,1.68,1.57,1.52,1.72,1.73]},
{"p":"e","w":385,"v":[1.64,1.52,1.49,1.57,1.53,1.46,1.6,1.67,1.55,1.5,1.58,1.47,1.43,1.61,1.63]},
{"p":"e","w":395,"v":[2.44,2.25,2.21,2.32,2.28,2.16,2.37,2.48,2.3,2.23,2.35,2.18,2.12,2.39,2.42]},
{"p":"e","w":400,"v":[3.82,3.53,3.46,3.64,3.56,3.38,3.71,3.89,3.6,3.49,3.67,3.42,3.31,3.74,3.78]},
{"p":"e","w":405,"v":[4.13,3.82,3.74,3.94,3.86,3.67,4.02,4.21,3.9,3.78,3.98,3.7,3.59,4.06,4.1]},
{"p":"e","w":427,"v":[4.88,4.51,4.42,4.65,4.55,4.32,4.74,4.97,4.6,4.46,4.69,4.37,4.23,4.78,4.83]},
{"p":"e","w":431,"v":[3.82,3.53,3.46,3.64,3.56,3.38,3.71,3.89,3.6,3.49,3.67,3.42,3.31,3.74,3.78]},
{"p":"e","w":435,"v":[5.19,4.8,4.7,4.95,4.85,4.61,5.05,5.29,4.9,4.75,5,4.65,4.51,5.1,5.15]},
{"p":"e","w":460,"v":[7,6.47,6.34,6.67,6.53,6.2,6.8,7.13,6.6,6.4,6.73,6.27,6.07,6.86,6.93]},
{"p":"e","w":484,"v":[7.42,6.86,6.72,7.07,6.93,6.58,7.21,7.56,7,6.79,7.14,6.65,6.44,7.28,7.35]},
{"p":"e","w":487,"v":[6.36,5.88,5.76,6.06,5.94,5.64,6.18,6.48,6,5.82,6.12,5.7,5.52,6.24,6.3]},
{"p":"e","w":490,"v":[7.31,6.76,6.62,6.97,6.83,6.49,7.11,7.45,6.9,6.69,7.04,6.55,6.35,7.18,7.25]},
{"p":"e","w":505,"v":[7.53,6.96,6.82,7.17,7.03,6.67,7.31,7.67,7.1,6.89,7.24,6.74,6.53,7.38,7.46]},
{"p":"e","w":515,"v":[7.42,6.86,6.72,7.07,6.93,6.58,7.21,7.56,7,6.79,7.14,6.65,6.44,7.28,7.35]},
{"p":"e","w":518,"v":[6.36,5.88,5.76,6.06,5.94,5.64,6.18,6.48,6,5.82,6.12,5.7,5.52,6.24,6.3]},
{"p":"e","w":521,"v":[7.31,6.76,6.62,6.97,6.83,6.49,7.11,7.45,6.9,6.69,7.04,6.55,6.35,7.18,7.25]},
{"p":"e","w":535,"v":[7.63,7.06,6.91,7.27,7.13,6.77,7.42,7.78,7.2,6.98,7.34,6.84,6.62,7.49,7.56]},
{"p":"e","w":555,"v":[7.31,6.76,6.62,6.97,6.83,6.49,7.11,7.45,6.9,6.69,7.04,6.55,6.35,7.18,7.25]},
{"p":"e","w":570,"v":[7.1,6.57,6.43,6.77,6.63,6.3,6.9,7.24,6.7,6.5,6.83,6.36,6.16,6.97,7.04]},
{"p":"e","w":586,"v":[6.89,6.37,6.24,6.57,6.43,6.11,6.7,7.02,6.5,6.3,6.63,6.17,5.98,6.76,6.83]},
{"p":"e","w":589,"v":[5.94,5.49,5.38,5.66,5.54,5.26,5.77,6.05,5.6,5.43,5.71,5.32,5.15,5.82,5.88]},
{"p":"e","w":592,"v":[6.57,6.08,5.95,6.26,6.14,5.83,6.39,6.7,6.2,6.01,6.32,5.89,5.7,6.45,6.51]},
{"p":"e","w":600,"v":[6.47,5.98,5.86,6.16,6.04,5.73,6.28,6.59,6.1,5.92,6.22,5.79,5.61,6.34,6.41]},
{"p":"e","w":620,"v":[6.15,5.68,5.57,5.86,5.74,5.45,5.97,6.26,5.8,5.63,5.92,5.51,5.34,6.03,6.09]},
{"p":"e","w":653,"v":[5.3,4.9,4.8,5.05,4.95,4.7,5.15,5.4,5,4.85,5.1,4.75,4.6,5.2,5.25]},
{"p":"e","w":656,"v":[4.35,4.02,3.94,4.14,4.06,3.85,4.22,4.43,4.1,3.98,4.18,3.89,3.77,4.26,4.31]},
{"p":"e","w":659,"v":[4.98,4.61,4.51,4.75,4.65,4.42,4.84,5.08,4.7,4.56,4.79,4.46,4.32,4.89,4.94]},
{"p":"e","w":684,"v":[4.51,4.16,4.08,4.29,4.21,3.99,4.38,4.59,4.25,4.12,4.34,4.04,3.91,4.42,4.46]},
{"p":"e","w":687,"v":[3.29,3.04,2.98,3.13,3.07,2.91,3.19,3.35,3.1,3.01,3.16,2.94,2.85,3.22,3.26]},
{"p":"e","w":691,"v":[3.71,3.43,3.36,3.54,3.46,3.29,3.61,3.78,3.5,3.39,3.57,3.32,3.22,3.64,3.68]},
{"p":"e","w":700,"v":[3.92,3.63,3.55,3.74,3.66,3.48,3.81,4,3.7,3.59,3.77,3.51,3.4,3.85,3.89]},
{"p":"e","w":712,"v":[3.71,3.43,3.36,3.54,3.46,3.29,3.61,3.78,3.5,3.39,3.57,3.32,3.22,3.64,3.68]},
{"p":"e","w":720,"v":[2.6,2.4,2.35,2.47,2.43,2.3,2.52,2.65,2.45,2.38,2.5,2.33,2.25,2.55,2.57]},
{"p":"e","w":725,"v":[2.23,2.06,2.02,2.12,2.08,1.97,2.16,2.27,2.1,2.04,2.14,1.99,1.93,2.18,2.21]},
{"p":"e","w":735,"v":[2.49,2.3,2.26,2.37,2.33,2.21,2.42,2.54,2.35,2.28,2.4,2.23,2.16,2.44,2.47]},
{"p":"e","w":748,"v":[2.81,2.6,2.54,2.68,2.62,2.49,2.73,2.86,2.65,2.57,2.7,2.52,2.44,2.76,2.78]},
{"p":"e","w":757,"v":[2.65,2.45,2.4,2.53,2.47,2.35,2.58,2.7,2.5,2.42,2.55,2.37,2.3,2.6,2.63]},
{"p":"e","w":761,"v":[0.8,0.73,0.72,0.76,0.74,0.7,0.77,0.81,0.75,0.73,0.77,0.71,0.69,0.78,0.79]},
{"p":"e","w":766,"v":[1.59,1.47,1.44,1.52,1.48,1.41,1.55,1.62,1.5,1.45,1.53,1.42,1.38,1.56,1.58]},
{"p":"e","w":775,"v":[2.49,2.3,2.26,2.37,2.33,2.21,2.42,2.54,2.35,2.28,2.4,2.23,2.16,2.44,2.47]},
{"p":"e","w":800,"v":[1.96,1.81,1.78,1.87,1.83,1.74,1.91,2,1.85,1.79,1.89,1.76,1.7,1.92,1.94]},
{"p":"e","w":820,"v":[1.54,1.42,1.39,1.46,1.44,1.36,1.49,1.57,1.45,1.41,1.48,1.38,1.33,1.51,1.52]},
{"p":"e","w":823,"v":[1.43,1.32,1.3,1.36,1.34,1.27,1.39,1.46,1.35,1.31,1.38,1.28,1.24,1.4,1.42]},
{"p":"e","w":826,"v":[1.54,1.42,1.39,1.46,1.44,1.36,1.49,1.57,1.45,1.41,1.48,1.38,1.33,1.51,1.52]},
{"p":"e","w":845,"v":[1.48,1.37,1.34,1.41,1.39,1.32,1.44,1.51,1.4,1.36,1.43,1.33,1.29,1.46,1.47]},
{"p":"e","w":860,"v":[1.22,1.13,1.1,1.16,1.14,1.08,1.19,1.24,1.15,1.12,1.17,1.09,1.06,1.2,1.21]},
{"p":"e","w":870,"v":[1.06,0.98,0.96,1.01,0.99,0.94,1.03,1.08,1,0.97,1.02,0.95,0.92,1.04,1.05]},
{"p":"e","w":880,"v":[0.83,0.76,0.75,0.79,0.77,0.73,0.8,0.84,0.78,0.76,0.8,0.74,0.72,0.81,0.82]},
{"p":"e","w":893,"v":[0.87,0.8,0.79,0.83,0.81,0.77,0.84,0.89,0.82,0.8,0.84,0.78,0.75,0.85,0.86]},
{"p":"e","w":905,"v":[0.72,0.67,0.65,0.69,0.67,0.64,0.7,0.73,0.68,0.66,0.69,0.65,0.63,0.71,0.71]},
{"p":"e","w":920,"v":[0.48,0.44,0.43,0.45,0.45,0.42,0.46,0.49,0.45,0.44,0.46,0.43,0.41,0.47,0.47]},
{"p":"e","w":930,"v":[0.3,0.27,0.27,0.28,0.28,0.26,0.29,0.3,0.28,0.27,0.29,0.27,0.26,0.29,0.29]},
{"p":"e","w":940,"v":[0.1,0.1,0.1,0.1,0.1,0.1,0.1,0.1,0.1,0.1,0.1,0.1,0.1,0.1,0.1]},
{"p":"e","w":950,"v":[0.08,0.08,0.08,0.08,0.08,0.08,0.08,0.08,0.08,0.08,0.08,0.08,0.08,0.08,0.08]},

{"p":"f","w":200,"v":[1800,1800,1800,1800,1800,1800,1800,1800,1800,1800,1800,1800,1800,1800,1800]},
{"p":"f","w":203,"v":[20,20,20,20,20,20,20,20,20,20,20,20,20,20,20]},
{"p":"f","w":280,"v":[20,20,20,20,20,20,20,20,20,20,20,20,20,20,20]},
{"p":"f","w":300,"v":[40,40,40,40,40,40,40,40,40,40,40,40,40,40,40]},
{"p":"f","w":315,"v":[184,180,178,176,178,184,182,185,178,176,180,176,182,300,182]},
{"p":"f","w":330,"v":[428,420,416,412,416,428,424,433,416,412,420,412,424,650,424]},
{"p":"f","w":350,"v":[632,620,614,608,614,632,626,639,614,608,620,608,626,950,626]},
{"p":"f","w":375,"v":[969,950,941,931,941,969,960,979,941,931,950,931,960,1400,960]},
{"p":"f","w":385,"v":[1224,1200,1188,1176,1188,1224,1212,1236,1188,1176,1200,1176,1212,1700,1212]},
{"p":"f","w":395,"v":[1530,1500,1485,1470,1485,1530,1515,1545,1485,1470,1500,1470,1515,2100,1515]},
{"p":"f","w":400,"v":[2346,2300,2277,2254,2277,2346,2323,2369,2277,2254,2300,2254,2323,3200,2323]},
{"p":"f","w":405,"v":[2754,2700,2673,2646,2673,2754,2727,2781,2673,2646,2700,2646,2727,3600,2727]},
{"p":"f","w":427,"v":[3876,3800,3762,3724,3762,3876,3838,3914,3762,3724,3800,3724,3838,4900,3838]},
{"p":"f","w":431,"v":[3315,3250,3218,3185,3218,3315,3283,3348,3218,3185,3250,3185,3283,4500,3283]},
{"p":"f","w":435,"v":[4284,4200,4158,4116,4158,4284,4242,4326,4158,4116,4200,4116,4242,5300,4242]},
{"p":"f","w":460,"v":[6732,6600,6534,6468,6534,6732,6666,6798,6534,6468,6600,6468,6666,7800,6666]},
{"p":"f","w":484,"v":[9180,9000,8910,8820,8910,9180,9090,9270,8910,8820,9000,8820,9090,10500,9090]},
{"p":"f","w":487,"v":[8058,7900,7821,7742,7821,8058,7979,8137,7821,7742,7900,7742,7979,9800,7979]},
{"p":"f","w":490,"v":[9180,9000,8910,8820,8910,9180,9090,9270,8910,8820,9000,8820,9090,10600,9090]},
{"p":"f","w":505,"v":[10098,9900,9801,9702,9801,10098,9999,10197,9801,9702,9900,9702,9999,12200,9999]},
{"p":"f","w":515,"v":[10200,10000,9900,9800,9900,10200,10100,10300,9900,9800,10000,9800,10100,12500,10100]},
{"p":"f","w":518,"v":[9180,9000,8910,8820,8910,9180,9090,9270,8910,8820,9000,8820,9090,11500,9090]},
{"p":"f","w":521,"v":[10302,10100,9999,9898,9999,10302,10201,10403,9999,9898,10100,9898,10201,12400,10201]},
{"p":"f","w":535,"v":[11526,11300,11187,11074,11187,11526,11413,11639,11187,11074,11300,11074,11413,13800,11413]},
{"p":"f","w":555,"v":[11832,11600,11484,11368,11484,11832,11716,11948,11484,11368,11600,11368,11716,13700,11716]},
{"p":"f","w":570,"v":[11322,11100,10989,10878,10989,11322,11211,11433,10989,10878,11100,10878,11211,13200,11211]},
{"p":"f","w":586,"v":[10302,10100,9999,9898,9999,10302,10201,10403,9999,9898,10100,9898,10201,12000,10201]},
{"p":"f","w":589,"v":[9180,9000,8910,8820,8910,9180,9090,9270,8910,8820,9000,8820,9090,11000,9090]},
{"p":"f","w":592,"v":[8466,8300,8217,8134,8217,8466,8383,8549,8217,8134,8300,8134,8383,10500,8383]},
{"p":"f","w":600,"v":[6426,6300,6237,6174,6237,6426,6363,6489,6237,6174,6300,6174,6363,9500,6363]},
{"p":"f","w":620,"v":[5610,5500,5445,5390,5445,5610,5555,5665,5445,5390,5500,5390,5555,7700,5555]},
{"p":"f","w":653,"v":[4182,4100,4059,4018,4059,4182,4141,4223,4059,4018,4100,4018,4141,6300,4141]},
{"p":"f","w":656,"v":[3366,3300,3267,3234,3267,3366,3333,3399,3267,3234,3300,3234,3333,5000,3333]},
{"p":"f","w":659,"v":[3978,3900,3861,3822,3861,3978,3939,4017,3861,3822,3900,3822,3939,5900,3939]},
{"p":"f","w":684,"v":[2958,2900,2871,2842,2871,2958,2929,2987,2871,2842,2900,2842,2929,4500,2929]},
{"p":"f","w":687,"v":[2448,2400,2376,2352,2376,2448,2424,2472,2376,2352,2400,2352,2424,3900,2424]},
{"p":"f","w":691,"v":[2754,2700,2673,2646,2673,2754,2727,2781,2673,2646,2700,2646,2727,4100,2727]},
{"p":"f","w":700,"v":[2856,2800,2772,2744,2772,2856,2828,2884,2772,2744,2800,2744,2828,4100,2828]},
{"p":"f","w":712,"v":[2346,2300,2277,2254,2277,2346,2323,2369,2277,2254,2300,2254,2323,3400,2323]},
{"p":"f","w":725,"v":[1224,1200,1188,1176,1188,1224,1212,1236,1188,1176,1200,1176,1212,2000,1212]},
{"p":"f","w":748,"v":[1479,1450,1436,1421,1436,1479,1465,1494,1436,1421,1450,1421,1465,2450,1465]},
{"p":"f","w":757,"v":[1428,1400,1386,1372,1386,1428,1414,1442,1386,1372,1400,1372,1414,2400,1414]},
{"p":"f","w":761,"v":[490,480,475,470,475,490,485,494,475,470,480,470,485,1150,485]},
{"p":"f","w":766,"v":[1173,1150,1139,1127,1139,1173,1162,1185,1139,1127,1150,1127,1162,2100,1162]},
{"p":"f","w":775,"v":[1275,1250,1238,1225,1238,1275,1263,1288,1238,1225,1250,1225,1263,2150,1263]},
{"p":"f","w":820,"v":[969,950,941,931,941,969,960,979,941,931,950,931,960,1600,960]},
{"p":"f","w":860,"v":[867,850,842,833,842,867,859,876,842,833,850,833,859,1400,859]},
{"p":"f","w":890,"v":[663,650,644,637,644,663,657,670,644,637,650,637,657,1050,657]},
{"p":"f","w":920,"v":[428,420,416,412,416,428,424,433,416,412,420,412,424,700,424]},
{"p":"f","w":940,"v":[122,120,119,118,119,122,121,124,119,118,120,118,121,250,121]},
{"p":"f","w":950,"v":[82,80,79,78,79,82,81,82,79,78,80,78,81,180,81]}
 ]
},
"resolve":{"scale":{"color":"independent"},"legend":{"color":"independent"}},
"columns":1,
"align":"none",
"spacing":13,
"concat":[
 {"resolve":{"scale":{"color":"independent"},"legend":{"color":"independent"}},
  "spacing":32,
  "hconcat":[
  {"width":354,"height":263,
   "title":{"text":["(a) Spectra of reference panel collected by the","system."],"dx":-35},
   "layer":[
    {"data":{"name":"sp"},"transform":[{"filter":"datum.p=='a'"},{"lookup":"p","from":{"data":{"name":"nm"},"key":"p","fields":["s"]}},{"flatten":["v","s"],"as":["dn","series"]}],
     "mark":{"type":"line","strokeWidth":0.8,"clip":true},
     "encoding":{
      "x":{"field":"w","type":"quantitative","scale":{"domain":[200,950],"nice":false,"zero":false},"axis":{"values":[200,300,400,500,600,700,800,900],"format":"d","title":"Wavelength (nm)","labelOverlap":false}},
      "y":{"field":"dn","type":"quantitative","scale":{"domain":[0,5.5],"nice":false},"axis":{"values":[0,0.5,1,1.5,2,2.5,3,3.5,4,4.5,5,5.5],"format":"~g","title":"Digital Number","labelOverlap":false}},
      "color":{"field":"series","type":"nominal","title":null}}},
    {"data":{"values":[{"t":"×10⁴"}]},"mark":{"type":"text","align":"left","baseline":"middle","dx":0,"dy":-8,"fontSize":12,"font":"Liberation Serif","color":"#000"},
     "encoding":{
      "x":{"datum":200,"type":"quantitative","axis":{"values":[200,300,400,500,600,700,800,900],"format":"d","title":"Wavelength (nm)","labelOverlap":false}},
      "y":{"datum":5.5,"type":"quantitative","axis":{"values":[0,0.5,1,1.5,2,2.5,3,3.5,4,4.5,5,5.5],"format":"~g","title":"Digital Number","labelOverlap":false}},
      "text":{"field":"t"}}}
   ]},
  {"resolve":{"scale":{"color":"independent"},"legend":{"color":"independent"}},
   "spacing":78,"bounds":"flush","center":true,
   "hconcat":[
   {"width":359,"height":263,
    "title":{"text":"(b) Spectra of skylight collected by the system.","dx":-27},
    "layer":[
     {"data":{"name":"sp"},"transform":[{"filter":"datum.p=='b'"},{"lookup":"p","from":{"data":{"name":"nm"},"key":"p","fields":["s"]}},{"flatten":["v","s"],"as":["dn","series"]}],
      "mark":{"type":"line","strokeWidth":0.8,"clip":true},
      "encoding":{
       "x":{"field":"w","type":"quantitative","scale":{"domain":[200,950],"nice":false,"zero":false},"axis":{"values":[200,300,400,500,600,700,800,900],"format":"d","title":"Wavelength (nm)","labelOverlap":false}},
       "y":{"field":"dn","type":"quantitative","scale":{"domain":[0,9],"nice":false},"axis":{"values":[0,1,2,3,4,5,6,7,8,9],"format":"~g","title":"Digital Number","labelOverlap":false}},
       "color":{"field":"series","type":"nominal","title":null}}},
     {"data":{"values":[{"t":"×10⁴"}]},"mark":{"type":"text","align":"left","baseline":"middle","dx":0,"dy":-8,"fontSize":12,"font":"Liberation Serif","color":"#000"},
      "encoding":{
       "x":{"datum":200,"type":"quantitative","axis":{"values":[200,300,400,500,600,700,800,900],"format":"d","title":"Wavelength (nm)","labelOverlap":false}},
       "y":{"datum":9,"type":"quantitative","axis":{"values":[0,1,2,3,4,5,6,7,8,9],"format":"~g","title":"Digital Number","labelOverlap":false}},
       "text":{"field":"t"}}}
    ]},
   {"width":341,"height":255,
    "title":{"text":["(c) Spectra of seawater collected by the","system."],"dx":-44,"offset":31},
    "layer":[
     {"data":{"name":"sp"},"transform":[{"filter":"datum.p=='c'"},{"lookup":"p","from":{"data":{"name":"nm"},"key":"p","fields":["s"]}},{"flatten":["v","s"],"as":["dn","series"]}],
      "mark":{"type":"line","strokeWidth":0.8,"clip":true},
      "encoding":{
       "x":{"field":"w","type":"quantitative","scale":{"domain":[200,936],"nice":false,"zero":false},"axis":{"values":[200,300,400,500,600,700,800,900],"format":"d","title":"Wavelength (nm)","labelOverlap":false}},
       "y":{"field":"dn","type":"quantitative","scale":{"domain":[0,15000],"nice":false},"axis":{"values":[0,5000,10000,15000],"format":"d","title":"Digital Number","labelOverlap":false}},
       "color":{"field":"series","type":"nominal","title":null}}}
    ]}
  ]}
 ]},
 {"resolve":{"scale":{"color":"independent"},"legend":{"color":"independent"}},
  "spacing":37,
  "hconcat":[
  {"width":349,"height":255,
   "title":{"text":["(d) Spectra of reference panel collected","manually."],"dx":-35,"offset":28},
   "layer":[
    {"data":{"name":"sp"},"transform":[{"filter":"datum.p=='d'"},{"lookup":"p","from":{"data":{"name":"nm"},"key":"p","fields":["s"]}},{"flatten":["v","s"],"as":["dn","series"]}],
     "mark":{"type":"line","strokeWidth":0.8,"clip":true},
     "encoding":{
      "x":{"field":"w","type":"quantitative","scale":{"domain":[200,950],"nice":false,"zero":false},"axis":{"values":[200,300,400,500,600,700,800,900],"format":"d","title":"Wavelength (nm)","labelOverlap":false}},
      "y":{"field":"dn","type":"quantitative","scale":{"domain":[0,5.5],"nice":false},"axis":{"values":[0,0.5,1,1.5,2,2.5,3,3.5,4,4.5,5,5.5],"format":"~g","title":"Digital Number","labelOverlap":false}},
      "color":{"field":"series","type":"nominal","title":null}}},
    {"data":{"values":[{"t":"×10⁴"}]},"mark":{"type":"text","align":"left","baseline":"middle","dx":0,"dy":-8,"fontSize":12,"font":"Liberation Serif","color":"#000"},
     "encoding":{
      "x":{"datum":200,"type":"quantitative","axis":{"values":[200,300,400,500,600,700,800,900],"format":"d","title":"Wavelength (nm)","labelOverlap":false}},
      "y":{"datum":5.5,"type":"quantitative","axis":{"values":[0,0.5,1,1.5,2,2.5,3,3.5,4,4.5,5,5.5],"format":"~g","title":"Digital Number","labelOverlap":false}},
      "text":{"field":"t"}}}
   ]},
  {"resolve":{"scale":{"color":"independent"},"legend":{"color":"independent"}},
   "spacing":78,"bounds":"flush","center":true,
   "hconcat":[
   {"width":359,"height":262,
    "title":{"text":"(e) Spectra of skylight collected manually.","dx":-27,"offset":22},
    "layer":[
     {"data":{"name":"sp"},"transform":[{"filter":"datum.p=='e'"},{"lookup":"p","from":{"data":{"name":"nm"},"key":"p","fields":["s"]}},{"flatten":["v","s"],"as":["dn","series"]}],
      "mark":{"type":"line","strokeWidth":0.8,"clip":true},
      "encoding":{
       "x":{"field":"w","type":"quantitative","scale":{"domain":[200,950],"nice":false,"zero":false},"axis":{"values":[200,300,400,500,600,700,800,900],"format":"d","title":"Wavelength (nm)","labelOverlap":false}},
       "y":{"field":"dn","type":"quantitative","scale":{"domain":[0,9],"nice":false},"axis":{"values":[0,1,2,3,4,5,6,7,8,9],"format":"~g","title":"Digital Number","labelOverlap":false}},
       "color":{"field":"series","type":"nominal","title":null}}},
     {"data":{"values":[{"t":"×10⁴"}]},"mark":{"type":"text","align":"left","baseline":"middle","dx":0,"dy":-8,"fontSize":12,"font":"Liberation Serif","color":"#000"},
      "encoding":{
       "x":{"datum":200,"type":"quantitative","axis":{"values":[200,300,400,500,600,700,800,900],"format":"d","title":"Wavelength (nm)","labelOverlap":false}},
       "y":{"datum":9,"type":"quantitative","axis":{"values":[0,1,2,3,4,5,6,7,8,9],"format":"~g","title":"Digital Number","labelOverlap":false}},
       "text":{"field":"t"}}}
    ]},
   {"width":341,"height":253,
    "title":{"text":"(f) Spectra of seawater collected manually.","dx":-46,"offset":27},
    "layer":[
     {"data":{"name":"sp"},"transform":[{"filter":"datum.p=='f'"},{"lookup":"p","from":{"data":{"name":"nm"},"key":"p","fields":["s"]}},{"flatten":["v","s"],"as":["dn","series"]}],
      "mark":{"type":"line","strokeWidth":0.8,"clip":true},
      "encoding":{
       "x":{"field":"w","type":"quantitative","scale":{"domain":[200,936],"nice":false,"zero":false},"axis":{"values":[200,300,400,500,600,700,800,900],"format":"d","title":"Wavelength (nm)","labelOverlap":false}},
       "y":{"field":"dn","type":"quantitative","scale":{"domain":[0,15000],"nice":false},"axis":{"values":[0,5000,10000,15000],"format":"d","title":"Digital Number","labelOverlap":false}},
       "color":{"field":"series","type":"nominal","title":null}}}
    ]}
  ]}
 ]}
]
}
